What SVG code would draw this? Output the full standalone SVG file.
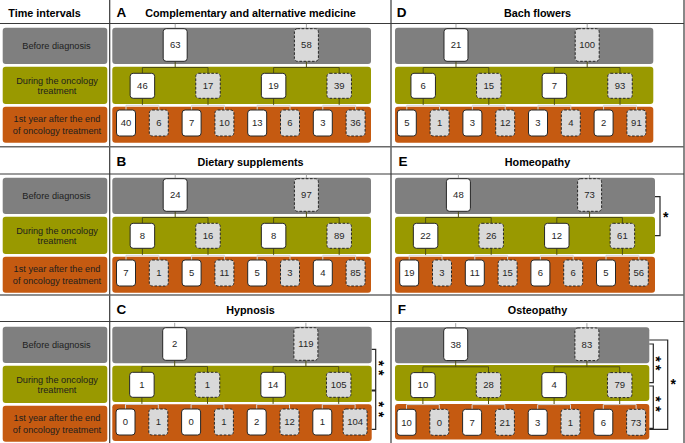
<svg xmlns="http://www.w3.org/2000/svg" width="685" height="443" viewBox="0 0 685 443">
<style>
.bg{fill:#7f7f7f}.bo{fill:#999900}.br{fill:#c55a11}
rect.bg,rect.bo,rect.br{rx:3px}
.w{fill:#ffffff;stroke:#262626;stroke-width:1;rx:3px}
.d{fill:#d9d9d9;stroke:#262626;stroke-width:1;stroke-dasharray:2.6 1.6;rx:3px}
.n{font-family:"Liberation Sans",Arial,sans-serif;font-size:9.5px;fill:#262626;text-anchor:middle}
.lab{font-family:"Liberation Sans",Arial,sans-serif;font-size:9.2px;fill:#1e1e1e;text-anchor:middle}
.ttl{font-family:"Liberation Sans",Arial,sans-serif;font-size:10.8px;font-weight:bold;fill:#000;text-anchor:middle}
.let{font-family:"Liberation Sans",Arial,sans-serif;font-size:13.5px;font-weight:bold;fill:#000}
.hd{font-family:"Liberation Sans",Arial,sans-serif;font-size:10.8px;font-weight:bold;fill:#000}
.star{font-family:"Liberation Sans",Arial,sans-serif;font-size:14px;font-weight:bold;fill:#000;text-anchor:middle}
.star2{font-family:"Liberation Sans",Arial,sans-serif;font-size:14px;font-weight:bold;fill:#000;letter-spacing:4px}
.grid{stroke:#3a3a3a;stroke-width:1.2;fill:none}
.sep{stroke:#6a6a6a;stroke-width:1.6;fill:none}
.cs{stroke:#a6a6a6;stroke-width:1;fill:none}
.ck{stroke:#4f4f12;stroke-width:1;fill:none}
.cl{stroke:#d6d6d6;stroke-width:1;fill:none}
.brk{stroke:#262626;stroke-width:1.2;fill:none}
</style>
<defs>
<g id="conn">
<path class="cs" d="M175.2 23.8V28.7M306.4 23.8V28.7"/>
<path class="ck" d="M175.2 61.3V67.5M142.4 73.3V67.5H208V73.3M306.4 61.3V67.5M273.6 73.3V67.5H339.2V73.3M142.4 98.3V105.3M208 98.3V105.3M273.6 98.3V105.3M339.2 98.3V105.3"/>
<path class="cl" d="M126 110V105.3H158.8V110M191.6 110V105.3H224.4V110M257.2 110V105.3H290V110M322.8 110V105.3H355.6V110"/>
</g>
</defs>

<!-- grid -->
<g id="grid">
<path class="grid" d="M0 23.5H684M0 174H684M0 321.5H684M109.7 0V443M391 0V443M684 0V443"/>
<path class="sep" d="M0 146.8H684M0 295H684"/>
</g>

<!-- left column -->
<g id="timeline">
<text class="hd" x="8.3" y="16.7">Time intervals</text>
<g id="L1">
<rect class="bg" x="2.7" y="27.7" width="104.6" height="36.3"/>
<rect class="bo" x="2.7" y="66.7" width="104.6" height="37.3"/>
<rect class="br" x="2.7" y="106.7" width="104.6" height="36"/>
<text class="lab" x="56.5" y="48.7">Before diagnosis</text>
<text class="lab" x="57" y="83.6">During the oncology</text>
<text class="lab" x="57" y="93.8">treatment</text>
<text class="lab" x="57" y="122.2">1st year after the end</text>
<text class="lab" x="57" y="133.6">of oncology treatment</text>
</g>
<g id="L2" transform="translate(0,150)">
<rect class="bg" x="2.7" y="27.7" width="104.6" height="36.3"/>
<rect class="bo" x="2.7" y="66.7" width="104.6" height="37.3"/>
<rect class="br" x="2.7" y="106.7" width="104.6" height="36"/>
<text class="lab" x="56.5" y="48.7">Before diagnosis</text>
<text class="lab" x="57" y="83.6">During the oncology</text>
<text class="lab" x="57" y="93.8">treatment</text>
<text class="lab" x="57" y="122.2">1st year after the end</text>
<text class="lab" x="57" y="133.6">of oncology treatment</text>
</g>
<g id="L3" transform="translate(0,299)">
<rect class="bg" x="2.7" y="27.7" width="104.6" height="36.3"/>
<rect class="bo" x="2.7" y="66.7" width="104.6" height="37.3"/>
<rect class="br" x="2.7" y="106.7" width="104.6" height="36"/>
<text class="lab" x="56.5" y="48.7">Before diagnosis</text>
<text class="lab" x="57" y="83.6">During the oncology</text>
<text class="lab" x="57" y="93.8">treatment</text>
<text class="lab" x="57" y="122.2">1st year after the end</text>
<text class="lab" x="57" y="133.6">of oncology treatment</text>
</g>
</g>

<!-- Panel A -->
<g id="panelA">
<text class="let" x="116.5" y="16.8">A</text>
<text class="ttl" x="250.5" y="16.6">Complementary and alternative medicine</text>
<rect class="bg" x="112.3" y="27.7" width="258.7" height="36.3"/>
<rect class="bo" x="112.3" y="66.7" width="258.7" height="37.3"/>
<rect class="br" x="112.3" y="106.7" width="258.7" height="36"/>
<g transform="translate(0,0)">
<g id="A-connectors"><use href="#conn"/></g>
<g id="A-t1"><rect class="w" x="163.2" y="28.7" width="24" height="32.6"/><text class="n" x="175.2" y="48.4">63</text></g>
<g id="A-t2"><rect class="d" x="294.4" y="28.7" width="24" height="32.6"/><text class="n" x="306.4" y="48.4">58</text></g>
<g id="A-m1"><rect class="w" x="130.15" y="73.3" width="24.5" height="25"/><text class="n" x="142.4" y="89.2">46</text></g>
<g id="A-m2"><rect class="d" x="195.75" y="73.3" width="24.5" height="25"/><text class="n" x="208" y="89.2">17</text></g>
<g id="A-m3"><rect class="w" x="261.35" y="73.3" width="24.5" height="25"/><text class="n" x="273.6" y="89.2">19</text></g>
<g id="A-m4"><rect class="d" x="326.95" y="73.3" width="24.5" height="25"/><text class="n" x="339.2" y="89.2">39</text></g>
<g id="A-b1"><rect class="w" x="116.5" y="110" width="19" height="26"/><text class="n" x="126" y="126.4">40</text></g>
<g id="A-b2"><rect class="d" x="149.3" y="110" width="19" height="26"/><text class="n" x="158.8" y="126.4">6</text></g>
<g id="A-b3"><rect class="w" x="182.1" y="110" width="19" height="26"/><text class="n" x="191.6" y="126.4">7</text></g>
<g id="A-b4"><rect class="d" x="214.9" y="110" width="19" height="26"/><text class="n" x="224.4" y="126.4">10</text></g>
<g id="A-b5"><rect class="w" x="247.7" y="110" width="19" height="26"/><text class="n" x="257.2" y="126.4">13</text></g>
<g id="A-b6"><rect class="d" x="280.5" y="110" width="19" height="26"/><text class="n" x="290" y="126.4">6</text></g>
<g id="A-b7"><rect class="w" x="313.3" y="110" width="19" height="26"/><text class="n" x="322.8" y="126.4">3</text></g>
<g id="A-b8"><rect class="d" x="346.1" y="110" width="19" height="26"/><text class="n" x="355.6" y="126.4">36</text></g>
</g>
</g>

<!-- Panel B -->
<g id="panelB">
<text class="let" x="116.5" y="165.8">B</text>
<text class="ttl" x="250.5" y="165.6">Dietary supplements</text>
<rect class="bg" x="112.3" y="177.7" width="258.7" height="36.3"/>
<rect class="bo" x="112.3" y="216.7" width="258.7" height="37.3"/>
<rect class="br" x="112.3" y="256.7" width="258.7" height="36"/>
<g transform="translate(0,150)">
<g id="B-connectors"><use href="#conn"/></g>
<g id="B-t1"><rect class="w" x="163.2" y="28.7" width="24" height="32.6"/><text class="n" x="175.2" y="48.4">24</text></g>
<g id="B-t2"><rect class="d" x="294.4" y="28.7" width="24" height="32.6"/><text class="n" x="306.4" y="48.4">97</text></g>
<g id="B-m1"><rect class="w" x="130.15" y="73.3" width="24.5" height="25"/><text class="n" x="142.4" y="89.2">8</text></g>
<g id="B-m2"><rect class="d" x="195.75" y="73.3" width="24.5" height="25"/><text class="n" x="208" y="89.2">16</text></g>
<g id="B-m3"><rect class="w" x="261.35" y="73.3" width="24.5" height="25"/><text class="n" x="273.6" y="89.2">8</text></g>
<g id="B-m4"><rect class="d" x="326.95" y="73.3" width="24.5" height="25"/><text class="n" x="339.2" y="89.2">89</text></g>
<g id="B-b1"><rect class="w" x="116.5" y="110" width="19" height="26"/><text class="n" x="126" y="126.4">7</text></g>
<g id="B-b2"><rect class="d" x="149.3" y="110" width="19" height="26"/><text class="n" x="158.8" y="126.4">1</text></g>
<g id="B-b3"><rect class="w" x="182.1" y="110" width="19" height="26"/><text class="n" x="191.6" y="126.4">5</text></g>
<g id="B-b4"><rect class="d" x="214.9" y="110" width="19" height="26"/><text class="n" x="224.4" y="126.4">11</text></g>
<g id="B-b5"><rect class="w" x="247.7" y="110" width="19" height="26"/><text class="n" x="257.2" y="126.4">5</text></g>
<g id="B-b6"><rect class="d" x="280.5" y="110" width="19" height="26"/><text class="n" x="290" y="126.4">3</text></g>
<g id="B-b7"><rect class="w" x="313.3" y="110" width="19" height="26"/><text class="n" x="322.8" y="126.4">4</text></g>
<g id="B-b8"><rect class="d" x="346.1" y="110" width="19" height="26"/><text class="n" x="355.6" y="126.4">85</text></g>
</g>
</g>

<!-- Panel C -->
<g id="panelC">
<text class="let" x="116.5" y="313.8">C</text>
<text class="ttl" x="250.5" y="313.6">Hypnosis</text>
<rect class="bg" x="112.3" y="326.7" width="259.4" height="36.6"/>
<rect class="bo" x="112.3" y="365.7" width="259.4" height="36.3"/>
<rect class="br" x="112.3" y="404.3" width="259.4" height="36.7"/>
<g transform="translate(-0.5,299)">
<g id="C-connectors"><use href="#conn"/></g>
<g id="C-t1"><rect class="w" x="163.2" y="28.7" width="24" height="32.6"/><text class="n" x="175.2" y="48.4">2</text></g>
<g id="C-t2"><rect class="d" x="294.4" y="28.7" width="24" height="32.6"/><text class="n" x="306.4" y="48.4">119</text></g>
<g id="C-m1"><rect class="w" x="130.15" y="73.3" width="24.5" height="25"/><text class="n" x="142.4" y="89.2">1</text></g>
<g id="C-m2"><rect class="d" x="195.75" y="73.3" width="24.5" height="25"/><text class="n" x="208" y="89.2">1</text></g>
<g id="C-m3"><rect class="w" x="261.35" y="73.3" width="24.5" height="25"/><text class="n" x="273.6" y="89.2">14</text></g>
<g id="C-m4"><rect class="d" x="326.95" y="73.3" width="24.5" height="25"/><text class="n" x="339.2" y="89.2">105</text></g>
<g id="C-b1"><rect class="w" x="116.5" y="110" width="19" height="26"/><text class="n" x="126" y="126.4">0</text></g>
<g id="C-b2"><rect class="d" x="149.3" y="110" width="19" height="26"/><text class="n" x="158.8" y="126.4">1</text></g>
<g id="C-b3"><rect class="w" x="182.1" y="110" width="19" height="26"/><text class="n" x="191.6" y="126.4">0</text></g>
<g id="C-b4"><rect class="d" x="214.9" y="110" width="19" height="26"/><text class="n" x="224.4" y="126.4">1</text></g>
<g id="C-b5"><rect class="w" x="247.7" y="110" width="19" height="26"/><text class="n" x="257.2" y="126.4">2</text></g>
<g id="C-b6"><rect class="d" x="280.5" y="110" width="19" height="26"/><text class="n" x="290" y="126.4">12</text></g>
<g id="C-b7"><rect class="w" x="313.3" y="110" width="19" height="26"/><text class="n" x="322.8" y="126.4">1</text></g>
<g id="C-b8"><rect class="d" x="343.6" y="110" width="24" height="26"/><text class="n" x="355.6" y="126.4">104</text></g>
</g>
<g id="C-brackets">
<path class="brk" d="M371.7 349.3H375.7V390H371.7M371.7 391H375.7V429.3H371.7"/>
<text class="star2" transform="translate(373.7,360.6) rotate(90)">**</text>
<text class="star2" transform="translate(373.7,401.6) rotate(90)" style="letter-spacing:4.6px">**</text>
</g>
</g>

<!-- Panel D -->
<g id="panelD">
<text class="let" x="396.7" y="16.8">D</text>
<text class="ttl" x="537.5" y="16.6">Bach flowers</text>
<rect class="bg" x="395" y="27.7" width="258.3" height="36.3"/>
<rect class="bo" x="395" y="66.7" width="258.3" height="37.3"/>
<rect class="br" x="395" y="106.7" width="258.3" height="36"/>
<g transform="translate(280.8,0)">
<g id="D-connectors"><use href="#conn"/></g>
<g id="D-t1"><rect class="w" x="163.2" y="28.7" width="24" height="32.6"/><text class="n" x="175.2" y="48.4">21</text></g>
<g id="D-t2"><rect class="d" x="294.4" y="28.7" width="24" height="32.6"/><text class="n" x="306.4" y="48.4">100</text></g>
<g id="D-m1"><rect class="w" x="130.15" y="73.3" width="24.5" height="25"/><text class="n" x="142.4" y="89.2">6</text></g>
<g id="D-m2"><rect class="d" x="195.75" y="73.3" width="24.5" height="25"/><text class="n" x="208" y="89.2">15</text></g>
<g id="D-m3"><rect class="w" x="261.35" y="73.3" width="24.5" height="25"/><text class="n" x="273.6" y="89.2">7</text></g>
<g id="D-m4"><rect class="d" x="326.95" y="73.3" width="24.5" height="25"/><text class="n" x="339.2" y="89.2">93</text></g>
<g id="D-b1"><rect class="w" x="116.5" y="110" width="19" height="26"/><text class="n" x="126" y="126.4">5</text></g>
<g id="D-b2"><rect class="d" x="149.3" y="110" width="19" height="26"/><text class="n" x="158.8" y="126.4">1</text></g>
<g id="D-b3"><rect class="w" x="182.1" y="110" width="19" height="26"/><text class="n" x="191.6" y="126.4">3</text></g>
<g id="D-b4"><rect class="d" x="214.9" y="110" width="19" height="26"/><text class="n" x="224.4" y="126.4">12</text></g>
<g id="D-b5"><rect class="w" x="247.7" y="110" width="19" height="26"/><text class="n" x="257.2" y="126.4">3</text></g>
<g id="D-b6"><rect class="d" x="280.5" y="110" width="19" height="26"/><text class="n" x="290" y="126.4">4</text></g>
<g id="D-b7"><rect class="w" x="313.3" y="110" width="19" height="26"/><text class="n" x="322.8" y="126.4">2</text></g>
<g id="D-b8"><rect class="d" x="346.1" y="110" width="19" height="26"/><text class="n" x="355.6" y="126.4">91</text></g>
</g>
</g>

<!-- Panel E -->
<g id="panelE">
<text class="let" x="398.5" y="165.8">E</text>
<text class="ttl" x="537.5" y="165.6">Homeopathy</text>
<rect class="bg" x="395" y="177.7" width="260" height="36.3"/>
<rect class="bo" x="395" y="216.7" width="260" height="37.3"/>
<rect class="br" x="395" y="256.7" width="260" height="36"/>
<g transform="translate(283.2,150)">
<g id="E-connectors"><use href="#conn"/></g>
<g id="E-t1"><rect class="w" x="163.2" y="28.7" width="24" height="32.6"/><text class="n" x="175.2" y="48.4">48</text></g>
<g id="E-t2"><rect class="d" x="294.4" y="28.7" width="24" height="32.6"/><text class="n" x="306.4" y="48.4">73</text></g>
<g id="E-m1"><rect class="w" x="130.15" y="73.3" width="24.5" height="25"/><text class="n" x="142.4" y="89.2">22</text></g>
<g id="E-m2"><rect class="d" x="195.75" y="73.3" width="24.5" height="25"/><text class="n" x="208" y="89.2">26</text></g>
<g id="E-m3"><rect class="w" x="261.35" y="73.3" width="24.5" height="25"/><text class="n" x="273.6" y="89.2">12</text></g>
<g id="E-m4"><rect class="d" x="326.95" y="73.3" width="24.5" height="25"/><text class="n" x="339.2" y="89.2">61</text></g>
<g id="E-b1"><rect class="w" x="116.5" y="110" width="19" height="26"/><text class="n" x="126" y="126.4">19</text></g>
<g id="E-b2"><rect class="d" x="149.3" y="110" width="19" height="26"/><text class="n" x="158.8" y="126.4">3</text></g>
<g id="E-b3"><rect class="w" x="182.1" y="110" width="19" height="26"/><text class="n" x="191.6" y="126.4">11</text></g>
<g id="E-b4"><rect class="d" x="214.9" y="110" width="19" height="26"/><text class="n" x="224.4" y="126.4">15</text></g>
<g id="E-b5"><rect class="w" x="247.7" y="110" width="19" height="26"/><text class="n" x="257.2" y="126.4">6</text></g>
<g id="E-b6"><rect class="d" x="280.5" y="110" width="19" height="26"/><text class="n" x="290" y="126.4">6</text></g>
<g id="E-b7"><rect class="w" x="313.3" y="110" width="19" height="26"/><text class="n" x="322.8" y="126.4">5</text></g>
<g id="E-b8"><rect class="d" x="346.1" y="110" width="19" height="26"/><text class="n" x="355.6" y="126.4">56</text></g>
</g>
<g id="E-brackets">
<path class="brk" d="M655 196.7H660V235.7H655"/>
<text class="star" x="665.7" y="222">*</text>
</g>
</g>

<!-- Panel F -->
<g id="panelF">
<text class="let" x="397.8" y="313.8">F</text>
<text class="ttl" x="537.5" y="313.6">Osteopathy</text>
<rect class="bg" x="395" y="327.3" width="254.3" height="36"/>
<rect class="bo" x="395" y="365" width="254.3" height="36"/>
<rect class="br" x="395" y="404" width="254.3" height="35.5"/>
<g transform="translate(280.5,299.3)">
<g id="F-connectors"><use href="#conn"/></g>
<g id="F-t1"><rect class="w" x="163.2" y="28.7" width="24" height="32.6"/><text class="n" x="175.2" y="48.4">38</text></g>
<g id="F-t2"><rect class="d" x="294.4" y="28.7" width="24" height="32.6"/><text class="n" x="306.4" y="48.4">83</text></g>
<g id="F-m1"><rect class="w" x="130.15" y="73.3" width="24.5" height="25"/><text class="n" x="142.4" y="89.2">10</text></g>
<g id="F-m2"><rect class="d" x="195.75" y="73.3" width="24.5" height="25"/><text class="n" x="208" y="89.2">28</text></g>
<g id="F-m3"><rect class="w" x="261.35" y="73.3" width="24.5" height="25"/><text class="n" x="273.6" y="89.2">4</text></g>
<g id="F-m4"><rect class="d" x="326.95" y="73.3" width="24.5" height="25"/><text class="n" x="339.2" y="89.2">79</text></g>
<g id="F-b1"><rect class="w" x="116.5" y="110" width="19" height="26"/><text class="n" x="126" y="126.4">10</text></g>
<g id="F-b2"><rect class="d" x="149.3" y="110" width="19" height="26"/><text class="n" x="158.8" y="126.4">0</text></g>
<g id="F-b3"><rect class="w" x="182.1" y="110" width="19" height="26"/><text class="n" x="191.6" y="126.4">7</text></g>
<g id="F-b4"><rect class="d" x="214.9" y="110" width="19" height="26"/><text class="n" x="224.4" y="126.4">21</text></g>
<g id="F-b5"><rect class="w" x="247.7" y="110" width="19" height="26"/><text class="n" x="257.2" y="126.4">3</text></g>
<g id="F-b6"><rect class="d" x="280.5" y="110" width="19" height="26"/><text class="n" x="290" y="126.4">1</text></g>
<g id="F-b7"><rect class="w" x="313.3" y="110" width="19" height="26"/><text class="n" x="322.8" y="126.4">6</text></g>
<g id="F-b8"><rect class="d" x="346.1" y="110" width="19" height="26"/><text class="n" x="355.6" y="126.4">73</text></g>
</g>
<g id="F-brackets">
<path class="brk" d="M649.3 344H653.3V382.7H649.3M649.3 386H653.3V428.3H649.3M649.3 340H667.7V429.3H649.3"/>
<text class="star2" transform="translate(651.3,356.3) rotate(90)" style="letter-spacing:3.3px">**</text>
<text class="star2" transform="translate(651.3,396.3) rotate(90)" style="letter-spacing:4.6px">**</text>
<text class="star" x="673.3" y="388.9">*</text>
</g>
</g>
</svg>
